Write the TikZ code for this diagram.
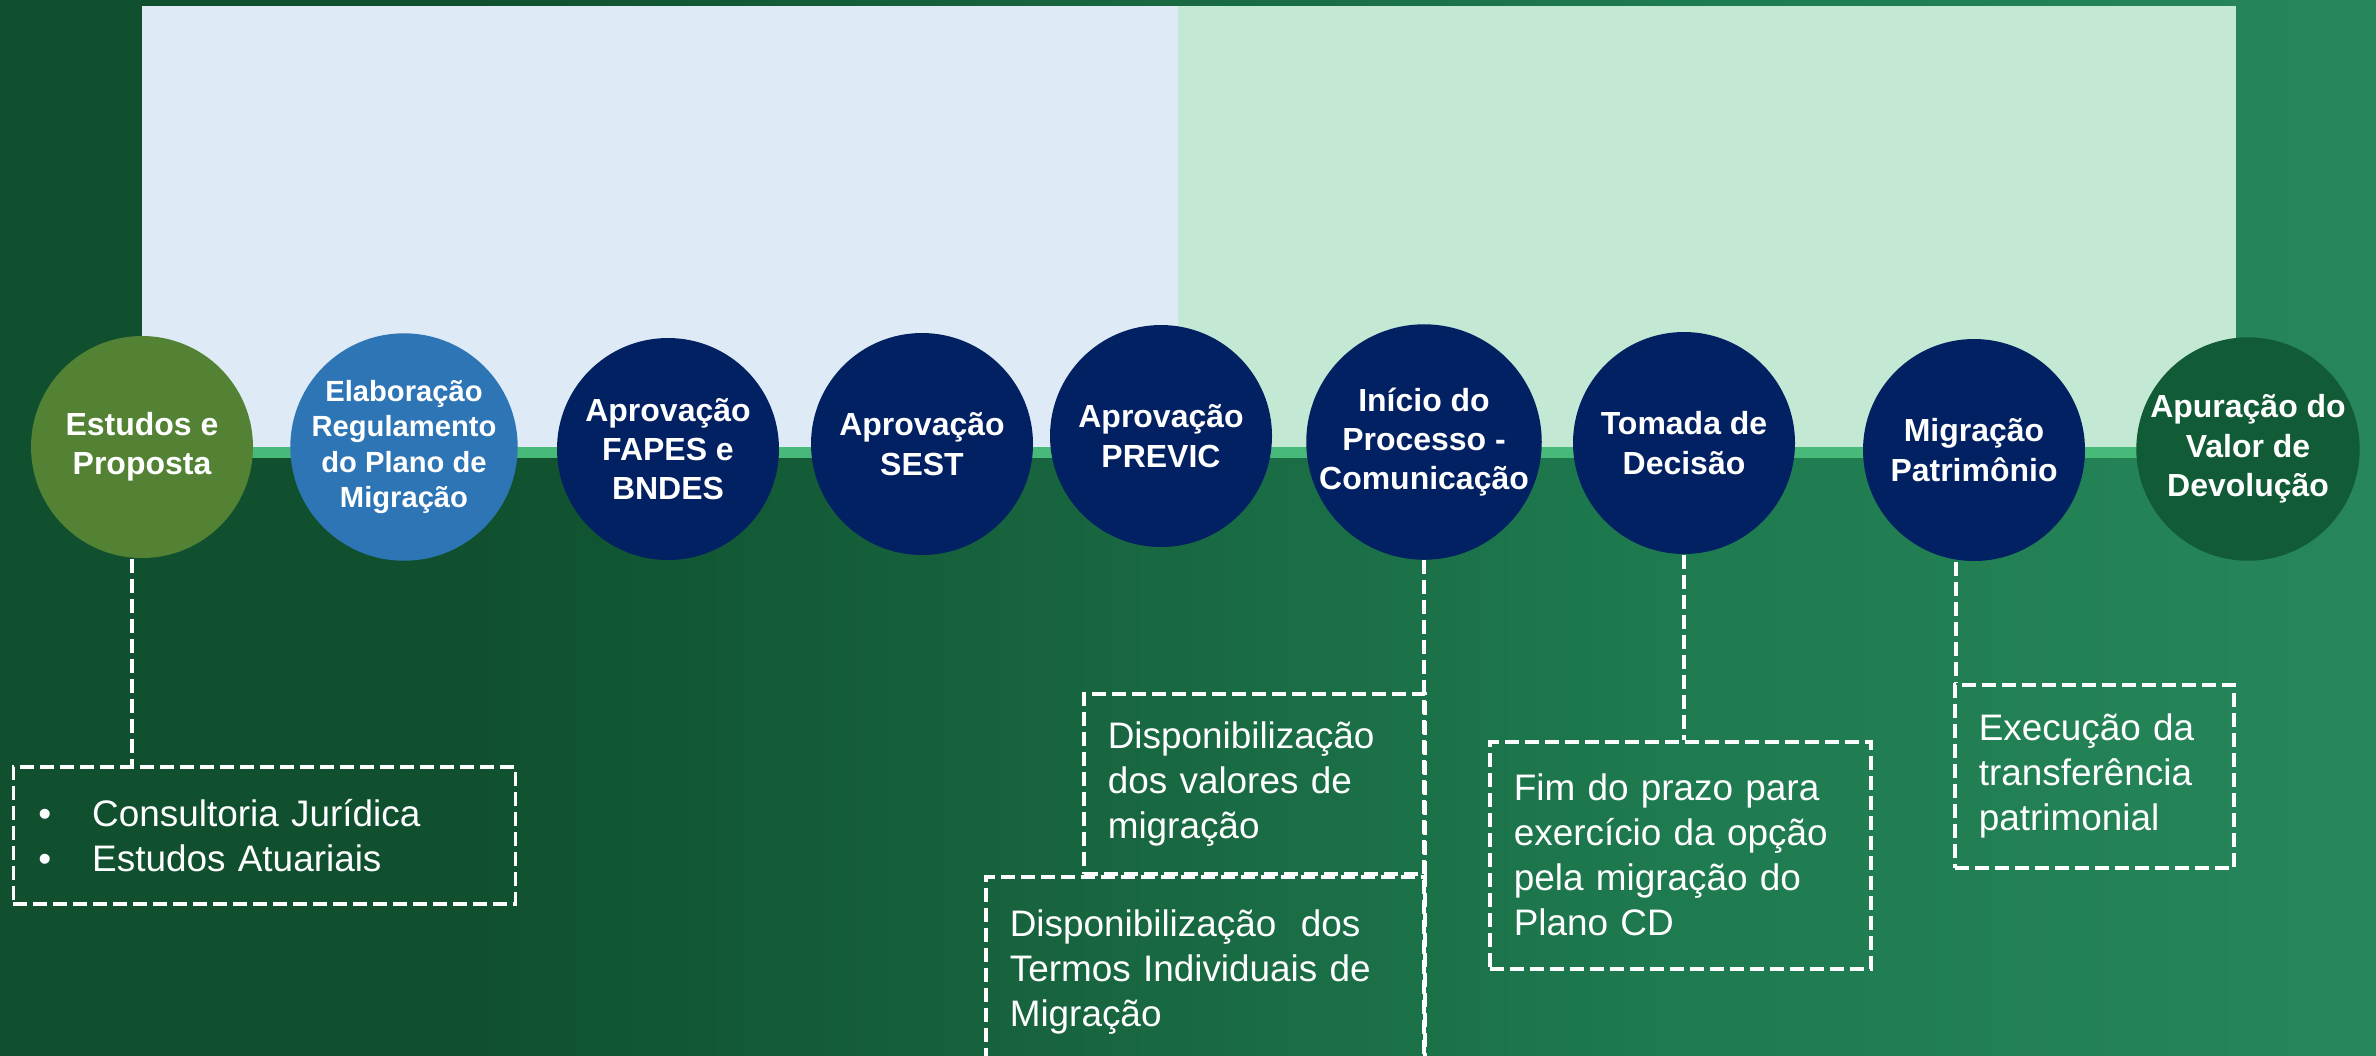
\documentclass[tikz,border=0pt]{standalone}
\usepackage{fontspec}
\setmainfont{Liberation Sans}
\usepackage{tikz}
\definecolor{mybgleft}{HTML}{10502F}
\definecolor{mybgmid}{HTML}{1E7A4F}
\definecolor{mybglight}{HTML}{2A8A5F}
\definecolor{mybgright}{HTML}{36976B}
\definecolor{myphaseone}{HTML}{DEEBF7}
\definecolor{myphasetwo}{HTML}{C3E8D4}
\definecolor{mybarcolor}{HTML}{47BA79}
\definecolor{mystudycolor}{HTML}{548235}
\definecolor{mydraftcolor}{HTML}{2E75B6}
\definecolor{mystepcolor}{HTML}{022162}
\definecolor{myendcolor}{HTML}{115C36}
\pgfdeclarehorizontalshading{mybgshade}{100bp}{color(0bp)=(mybgleft); color(35bp)=(mybgleft); color(60bp)=(mybgmid); color(80bp)=(mybglight); color(100bp)=(mybgright)}

\begin{document}
\begin{tikzpicture}[
  milestone/.style={circle, minimum size=2.22cm, inner sep=0pt, align=center, text=white, font=\bfseries\fontsize{9.1pt}{11.2pt}\selectfont},
  notebox/.style={draw=white, line width=1pt, dash pattern=on 0.14cm off 0.06cm, text=white, align=left, anchor=north west, inner xsep=0.24cm, inner ysep=0pt, font=\fontsize{10.5pt}{12.8pt}\selectfont},
  link/.style={draw=white, line width=1pt, dash pattern=on 0.14cm off 0.06cm}
]%
\useasboundingbox (0,0) rectangle (23.76,-10.55);%
\clip (0,0) rectangle (23.76,-10.55);%
\shade[shading=mybgshade] (0,0) rectangle (23.76,-10.55);%
% the two phases behind the timeline
\fill[myphaseone] (1.42,-0.06) rectangle (11.78,-4.47);%
\fill[myphasetwo] (11.78,-0.06) rectangle (22.36,-4.47);%
\fill[mybarcolor] (1.42,-4.47) rectangle (22.48,-4.58);%
% milestones
\node[milestone, fill=mystudycolor] (c1) at (1.42, -4.47) {Estudos e\\Proposta};%
\node[milestone, fill=mydraftcolor, font=\bfseries\fontsize{8.3pt}{10pt}\selectfont] (c2) at (4.04, -4.47) {Elaboração\\Regulamento\\do Plano de\\Migração};%
\node[milestone, fill=mystepcolor] (c3) at (6.68, -4.49) {Aprovação\\FAPES e\\BNDES};%
\node[milestone, fill=mystepcolor] (c4) at (9.22, -4.44) {Aprovação\\SEST};%
\node[milestone, fill=mystepcolor] (c5) at (11.61, -4.36) {Aprovação\\PREVIC};%
\node[milestone, fill=mystepcolor] (c6) at (14.24, -4.42) {Início do\\Processo -\\Comunicação};%
\node[milestone, fill=mystepcolor] (c7) at (16.84, -4.43) {Tomada de\\Decisão};%
\node[milestone, fill=mystepcolor] (c8) at (19.74, -4.50) {Migração\\Patrimônio};%
\node[milestone, fill=myendcolor] (c9) at (22.48, -4.49) {Apuração do\\Valor de\\Devolução};%
% notes under the milestones
\node[notebox, text width=4.52cm, minimum height=1.37cm, inner xsep=0.25cm] (studyNote) at (0.115, -7.65) {\makebox[0.54cm][l]{\textbullet}Consultoria Jurídica\\\makebox[0.54cm][l]{\textbullet}Estudos Atuariais};%
\node[notebox, text width=2.93cm, minimum height=1.80cm] (valuesNote) at (10.82, -6.92) {Disponibilização\\dos valores de\\migração};%
\node[notebox, text width=3.91cm, minimum height=1.91cm] (termsNote) at (9.84, -8.75) {Disponibilização\ \ dos\\Termos Individuais de\\Migração};%
\node[notebox, text width=3.33cm, minimum height=2.27cm] (deadlineNote) at (14.88, -7.40) {Fim do prazo para\\exercício da opção\\pela migração do\\Plano CD};%
\node[notebox, text width=2.31cm, minimum height=1.83cm] (transferNote) at (19.53, -6.83) {Execução da\\transferência\\patrimonial};%
% dashed links
\draw[link] ([xshift=-0.1cm]c1.south) -- ([xshift=-0.1cm]c1.south |- studyNote.north);%
\draw[link] (c6.south) -- (c6.south |- termsNote.south);%
\draw[link] (c7.south) -- (c7.south |- deadlineNote.north);%
\draw[link] ([xshift=-0.18cm]c8.south) -- ([xshift=-0.18cm]c8.south |- transferNote.north);%
\end{tikzpicture}
\end{document}
